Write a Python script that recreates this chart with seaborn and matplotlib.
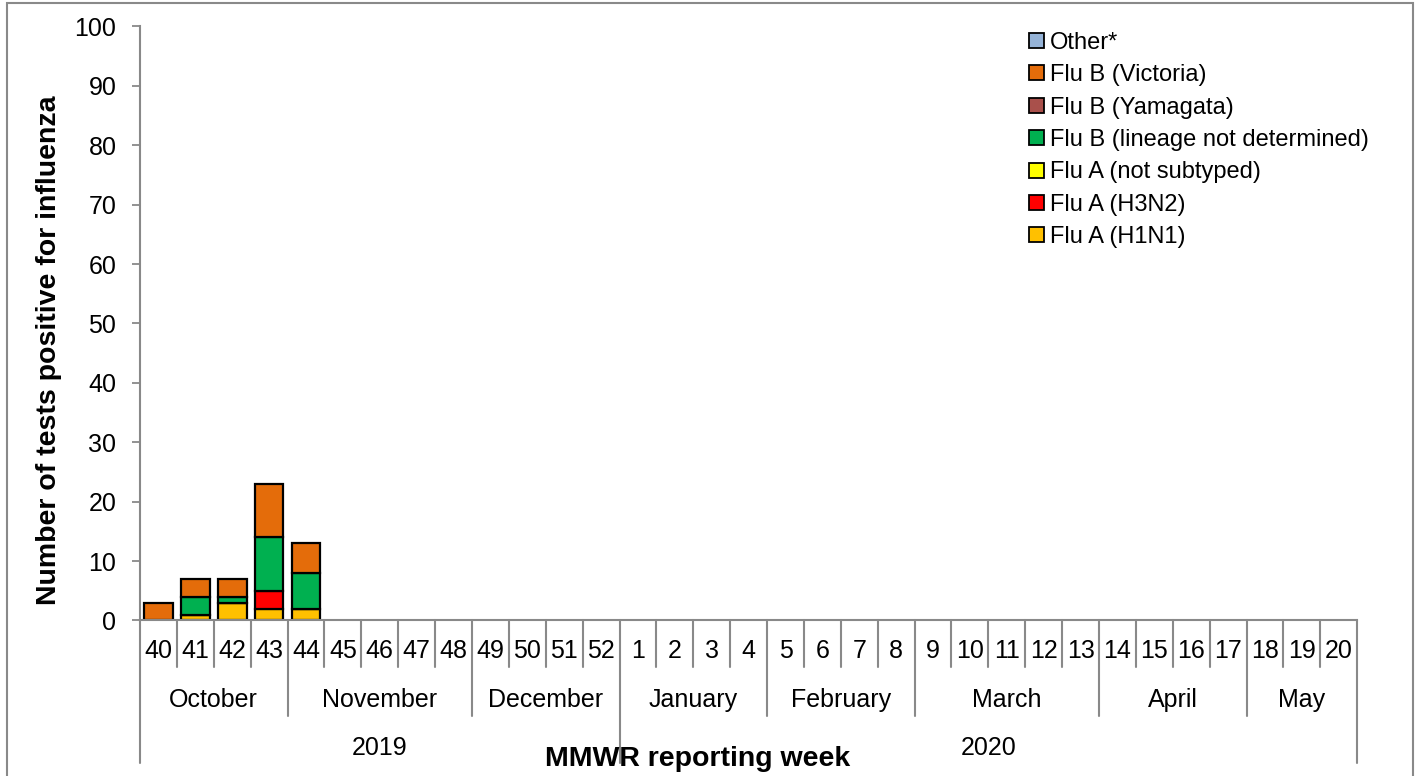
import matplotlib
matplotlib.use("Agg")
import matplotlib.pyplot as plt
from matplotlib.patches import Patch, Rectangle
import pandas as pd
import seaborn as sns

# Semanas MMWR (temporada 2019-2020)
weeks = [40, 41, 42, 43, 44, 45, 46, 47, 48, 49, 50, 51, 52,
         1, 2, 3, 4, 5, 6, 7, 8, 9, 10, 11, 12, 13, 14, 15, 16, 17, 18, 19, 20]
months = ["October", "November", "December", "January", "February", "March", "April", "May"]
month_sizes = [4, 5, 4, 4, 4, 5, 4, 3]
years = ["2019", "2020"]
year_sizes = [13, 20]

# Contagens por tipo (uma lista por serie)
other = [0, 0, 0, 0, 0, 0, 0, 0, 0, 0, 0, 0, 0, 0, 0, 0, 0, 0, 0, 0, 0, 0, 0, 0, 0, 0, 0, 0, 0, 0, 0, 0, 0]
flu_b_victoria = [3, 3, 3, 9, 5, 0, 0, 0, 0, 0, 0, 0, 0, 0, 0, 0, 0, 0, 0, 0, 0, 0, 0, 0, 0, 0, 0, 0, 0, 0, 0, 0, 0]
flu_b_yamagata = [0, 0, 0, 0, 0, 0, 0, 0, 0, 0, 0, 0, 0, 0, 0, 0, 0, 0, 0, 0, 0, 0, 0, 0, 0, 0, 0, 0, 0, 0, 0, 0, 0]
flu_b_nd = [0, 3, 1, 9, 6, 0, 0, 0, 0, 0, 0, 0, 0, 0, 0, 0, 0, 0, 0, 0, 0, 0, 0, 0, 0, 0, 0, 0, 0, 0, 0, 0, 0]
flu_a_ns = [0, 0, 0, 0, 0, 0, 0, 0, 0, 0, 0, 0, 0, 0, 0, 0, 0, 0, 0, 0, 0, 0, 0, 0, 0, 0, 0, 0, 0, 0, 0, 0, 0]
flu_a_h3n2 = [0, 0, 0, 3, 0, 0, 0, 0, 0, 0, 0, 0, 0, 0, 0, 0, 0, 0, 0, 0, 0, 0, 0, 0, 0, 0, 0, 0, 0, 0, 0, 0, 0]
flu_a_h1n1 = [0, 1, 3, 2, 2, 0, 0, 0, 0, 0, 0, 0, 0, 0, 0, 0, 0, 0, 0, 0, 0, 0, 0, 0, 0, 0, 0, 0, 0, 0, 0, 0, 0]

# ordem da legenda (de cima para baixo); a pilha fica invertida
series_names = ["Other*", "Flu B (Victoria)", "Flu B (Yamagata)", "Flu B (lineage not determined)",
                "Flu A (not subtyped)", "Flu A (H3N2)", "Flu A (H1N1)"]
series_values = [other, flu_b_victoria, flu_b_yamagata, flu_b_nd, flu_a_ns, flu_a_h3n2, flu_a_h1n1]
colors = ["#95B3D7", "#E46C0A", "#A9504B", "#00B050", "#FFFF00", "#FF0000", "#FFC000"]

rows = []
for name, vals in zip(series_names, series_values):
    for i, v in enumerate(vals):
        if v > 0:
            rows.append({"pos": i, "count": v, "tipo": name})
df = pd.DataFrame(rows)

sns.set_theme(style="white")
plt.rcParams['font.family'] = ['Liberation Sans', 'DejaVu Sans']
plt.rcParams['text.color'] = 'black'
plt.rcParams['axes.labelcolor'] = 'black'
plt.rcParams['ytick.color'] = 'black'

gray = "#898989"
fig = plt.figure(figsize=(14.17, 7.76), dpi=100)
ax = fig.add_axes([0.0988, 0.2004, 0.859, 0.7655])

sns.histplot(data=df, x="pos", weights="count", hue="tipo", hue_order=series_names,
             palette=dict(zip(series_names, colors)), multiple="stack", discrete=True,
             shrink=0.78, edgecolor="black", linewidth=1.6, alpha=1, legend=False, ax=ax)

n = len(weeks)
ax.set_xlim(-0.5, n - 0.5)
ax.set_ylim(0, 100)
ax.set_yticks(range(0, 101, 10))
ax.set_xticks([])
ax.set_xlabel("")
ax.set_ylabel("Number of tests positive for influenza", fontsize=20.5, fontweight="bold")
ax.yaxis.set_label_coords(-0.064, 0.455)
ax.tick_params(axis="y", left=True, length=6, width=1.3, color=gray, pad=11,
               labelsize=18, labelcolor="black")
for s in ["top", "right"]:
    ax.spines[s].set_visible(False)
for s in ["left", "bottom"]:
    ax.spines[s].set_color(gray)
    ax.spines[s].set_linewidth(1.5)

# eixo x em varios niveis (semana / mes / ano)
tr = ax.get_xaxis_transform()
week_bottom, month_bottom, year_bottom = -0.079, -0.16, -0.24
month_edges = [0]
for m in month_sizes:
    month_edges.append(month_edges[-1] + m)
year_edges = [0]
for y in year_sizes:
    year_edges.append(year_edges[-1] + y)

for b in range(n + 1):
    if b in year_edges:
        bottom = year_bottom
    elif b in month_edges:
        bottom = month_bottom
    else:
        bottom = week_bottom
    ax.plot([b - 0.5, b - 0.5], [0, bottom], color=gray, lw=1.5, transform=tr, clip_on=False)

for i, w in enumerate(weeks):
    ax.text(i, -0.051, str(w), transform=tr, ha="center", va="center", fontsize=18)
for k, m in enumerate(months):
    c = (month_edges[k] + month_edges[k + 1]) / 2 - 0.5
    ax.text(c, -0.134, m, transform=tr, ha="center", va="center", fontsize=18)
for k, y in enumerate(years):
    c = (year_edges[k] + year_edges[k + 1]) / 2 - 0.5
    ax.text(c, -0.215, y, transform=tr, ha="center", va="center", fontsize=18)

fig.text(0.492, 0.022, "MMWR reporting week", ha="center", va="center",
         fontsize=20.5, fontweight="bold")

handles = [Patch(facecolor=c, edgecolor="black", linewidth=1.3) for c in colors]
fig.legend(handles, series_names, loc="upper left", bbox_to_anchor=(0.7265, 0.959),
           frameon=False, fontsize=17, handlelength=0.6, handleheight=0.6,
           handletextpad=0.25, labelspacing=0.44, borderpad=0, borderaxespad=0)

# moldura cinza em volta do grafico
fig.patches.append(Rectangle((7 / 1417, -0.05), 1406 / 1417, 1.05 - 3 / 776,
                             transform=fig.transFigure, fill=False,
                             edgecolor=gray, linewidth=1.5))

fig.savefig("out.png", dpi=100)
